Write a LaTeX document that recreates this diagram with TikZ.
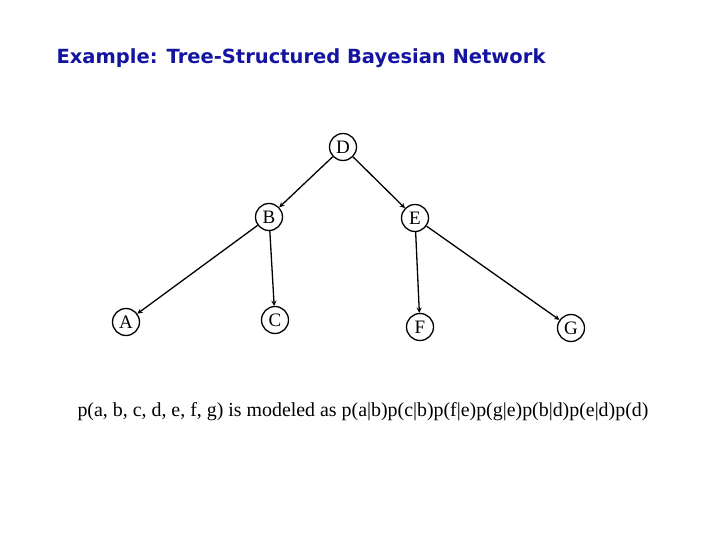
\documentclass[tikz,border=0pt]{standalone}
\usepackage{fontspec}
\setmainfont{Liberation Serif}
\newfontfamily\titlefont{DejaVu Sans}
\definecolor{titleblue}{RGB}{20,20,160}
\begin{document}
\begin{tikzpicture}[x=1pt,y=-1pt,
  vn/.style={circle,draw,line width=1.3pt,minimum size=27pt,inner sep=0pt,font=\fontsize{19}{19}\selectfont},
  arr/.style={->,>=stealth,line width=1.3pt}]
\useasboundingbox (0,0) rectangle (720,540);
\node[anchor=west,text=titleblue,font=\titlefont\bfseries\fontsize{19.5}{22}\selectfont] (t) at (53,58) {Example: Tree-Structured Bayesian Network};
\node[vn] (D) at (343,147) {D};
\node[vn] (B) at (269,217) {B};
\node[vn] (E) at (415,218) {E};
\node[vn] (A) at (126,322) {A};
\node[vn] (C) at (275,320) {C};
\node[vn] (F) at (420,327) {F};
\node[vn] (G) at (571,328) {G};
\draw[arr] (D) -- (B);
\draw[arr] (D) -- (E);
\draw[arr] (B) -- (A);
\draw[arr] (B) -- (C);
\draw[arr] (E) -- (F);
\draw[arr] (E) -- (G);
\node[anchor=west,font=\fontsize{19.9}{22}\selectfont] (f) at (74,412) {p(a, b, c, d, e, f, g) is modeled as p(a|b)p(c|b)p(f|e)p(g|e)p(b|d)p(e|d)p(d)};
\end{tikzpicture}
\end{document}
